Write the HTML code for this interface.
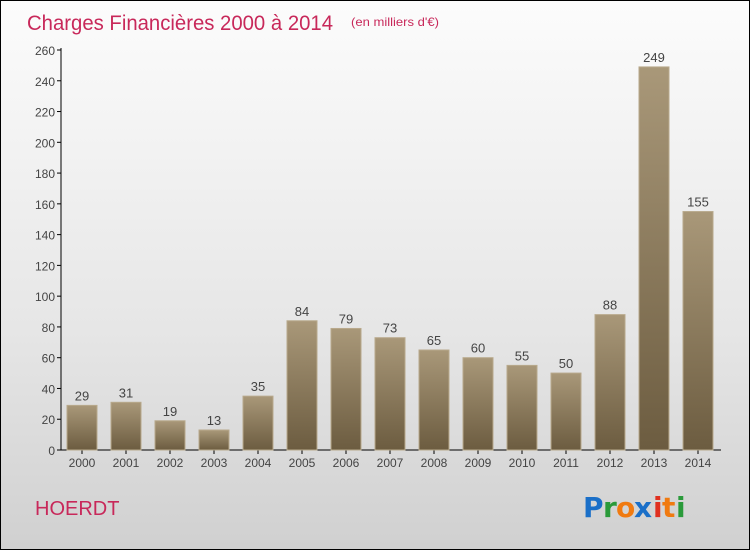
<!DOCTYPE html>
<html><head><meta charset="utf-8"><style>
body{margin:0;}
#wrap{width:748px;height:548px;border:1px solid #000;background:linear-gradient(#fcfcfc,#e6e6e6 60%,#d0d0d0);position:relative;font-family:"Liberation Sans",sans-serif;overflow:hidden;}
</style></head><body>
<div id="wrap">
<svg width="748" height="548" xmlns="http://www.w3.org/2000/svg">
<defs><linearGradient id="bg" x1="0" y1="0" x2="0" y2="1"><stop offset="0" stop-color="#a99879"/><stop offset="1" stop-color="#6c5c40"/></linearGradient></defs>
<text x="26" y="29" font-size="21" fill="#c8285a" textLength="306" lengthAdjust="spacingAndGlyphs">Charges Financières 2000 à 2014</text>
<text x="350" y="25" font-size="12" fill="#c8285a" textLength="88" lengthAdjust="spacingAndGlyphs">(en milliers d'€)</text>
<text x="34" y="514" font-size="20" fill="#c8285a">HOERDT</text>
<g font-size="28" font-weight="bold" font-family="'DejaVu Sans',sans-serif">
<text x="582" y="516" fill="#1a6fc8">P</text><text x="602" y="516" fill="#2a9a3a">r</text><text x="615" y="516" fill="#f07a10">o</text><text x="633" y="516" fill="#1a6fc8">x</text><text x="652" y="516" fill="#e03020">i</text><text x="661" y="516" fill="#f07a10">t</text><text x="675" y="516" fill="#2a9a3a">i</text></g>
<g id="axes"></g><g id="bars"></g>
</svg></div>
<script>
const categories=["2000","2001","2002","2003","2004","2005","2006","2007","2008","2009","2010","2011","2012","2013","2014"];
const values=[29,31,19,13,35,84,79,73,65,60,55,50,88,249,155];
const yTicks=[0,20,40,60,80,100,120,140,160,180,200,220,240,260];
const NS="http://www.w3.org/2000/svg";
const y=v=>449-v*400/260;
const x=i=>81+i*44;
function mk(t,a,p){const e=document.createElementNS(NS,t);for(const k in a)e.setAttribute(k,a[k]);p.appendChild(e);return e;}
const ax=document.getElementById('axes'),bars=document.getElementById('bars');
let l=mk('line',{x1:60,y1:y(260)-2,x2:60,y2:449,stroke:'#000'},ax);


l=mk('line',{x1:60,y1:449,x2:720,y2:449,stroke:'#000'},ax);


yTicks.forEach(v=>{mk('line',{x1:56,x2:60,y1:y(v),y2:y(v),stroke:'#000'},ax);
const t=mk('text',{x:54,y:y(v)+5,'text-anchor':'end','font-size':12,fill:'#444'},ax);t.textContent=v;

});
categories.forEach((c,i)=>{const cx=x(i);
mk('line',{x1:cx,x2:cx,y1:449,y2:453,stroke:'#000'},ax);
const t=mk('text',{x:cx,y:466,'text-anchor':'middle','font-size':12,fill:'#444'},ax);t.textContent=c;


const r=mk('rect',{x:cx-15,y:y(values[i]),width:30,height:449-y(values[i]),fill:'url(#bg)',stroke:'#b8a98c','stroke-width':1},bars);


const lb=mk('text',{x:cx,y:y(values[i])-5,'text-anchor':'middle','font-size':13,fill:'#444'},bars);lb.textContent=values[i];

});
</script>
</body></html>
